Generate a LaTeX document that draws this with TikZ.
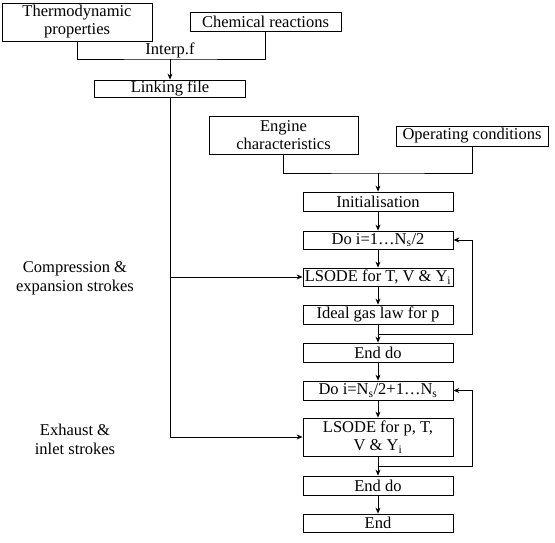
\documentclass[tikz,border=0pt]{standalone}
\usepackage{fontspec}
\setmainfont{Liberation Serif}
\usetikzlibrary{arrows.meta}
\begin{document}
\begin{tikzpicture}[x=1pt,y=-1pt,
  box/.style={draw,line width=0.8pt,inner sep=0pt,align=center,font=\fontsize{16.5}{18}\selectfont},
  lbl/.style={inner sep=0pt,align=center,font=\fontsize{16.5}{19}\selectfont},
  conn/.style={line width=0.8pt},
  arr/.style={line width=0.8pt,-{Stealth[length=6pt,width=5pt]}}]
\useasboundingbox (0,0) rectangle (555,543);
\node[box,minimum width=150pt,minimum height=38pt] (thermo) at (77,22) {Thermodynamic\\properties};
\node[box,minimum width=151pt,minimum height=19pt] (chem) at (265.5,21.5) {Chemical reactions};
\node[lbl] (interp) at (170,50) {Interp.f};
\node[box,minimum width=151pt,minimum height=17pt] (link) at (170,88.5) {Linking file};
\node[box,minimum width=149pt,minimum height=38pt] (engine) at (283.5,135) {Engine\\characteristics};
\node[box,minimum width=152pt,minimum height=20pt] (oper) at (472,136) {Operating conditions};
\node[box,minimum width=150pt,minimum height=19pt] (init) at (378,201.5) {Initialisation};
\node[box,minimum width=150pt,minimum height=18pt] (do1) at (378,240) {Do i=1…N\textsubscript{s}/2};
\node[box,minimum width=150pt,minimum height=18pt] (ls1) at (378,277) {LSODE for T, V \& Y\textsubscript{i}};
\node[box,minimum width=150pt,minimum height=19pt] (ideal) at (378,314.5) {Ideal gas law for p};
\node[box,minimum width=150pt,minimum height=19pt] (ed1) at (378,352.5) {End do};
\node[box,minimum width=150pt,minimum height=19pt] (do2) at (378,390.5) {Do i=N\textsubscript{s}/2+1…N\textsubscript{s}};
\node[box,minimum width=150pt,minimum height=38pt] (ls2) at (378,437) {LSODE for p, T,\\V \& Y\textsubscript{i}};
\node[box,minimum width=150pt,minimum height=19pt] (ed2) at (378,485.5) {End do};
\node[box,minimum width=150pt,minimum height=18pt] (fin) at (378,523) {End};
\node[lbl] (comp) at (75,278) {Compression \&\\expansion strokes};
\node[lbl] (exh) at (75,439) {Exhaust \&\\inlet strokes};
\coordinate (j1) at (170,59);
\coordinate (j2) at (378,173);
\coordinate (b1) at (170,277);
\coordinate (l1) at (378,334);
\coordinate (l2) at (378,466);
\draw[conn] (thermo.south) |- (j1) -| (chem.south);
\draw[arr] (j1) -- (link.north);
\draw[arr] (link.south) |- (ls2.west);
\draw[arr] (b1) -- (ls1.west);
\draw[conn] (engine.south) |- (j2) -| (oper.south);
\draw[arr] (j2) -- (init.north);
\draw[arr] (init) -- (do1);
\draw[arr] (do1) -- (ls1);
\draw[arr] (ls1) -- (ideal);
\draw[conn] (ideal.south) -- (l1);
\draw[arr] (l1) -- (ed1.north);
\draw[arr] (l1) -- (472,334) |- (do1.east);
\draw[arr] (ed1) -- (do2);
\draw[arr] (do2) -- (ls2);
\draw[conn] (ls2.south) -- (l2);
\draw[arr] (l2) -- (ed2.north);
\draw[arr] (l2) -- (472,466) |- (do2.east);
\draw[arr] (ed2) -- (fin);
\end{tikzpicture}
\end{document}
